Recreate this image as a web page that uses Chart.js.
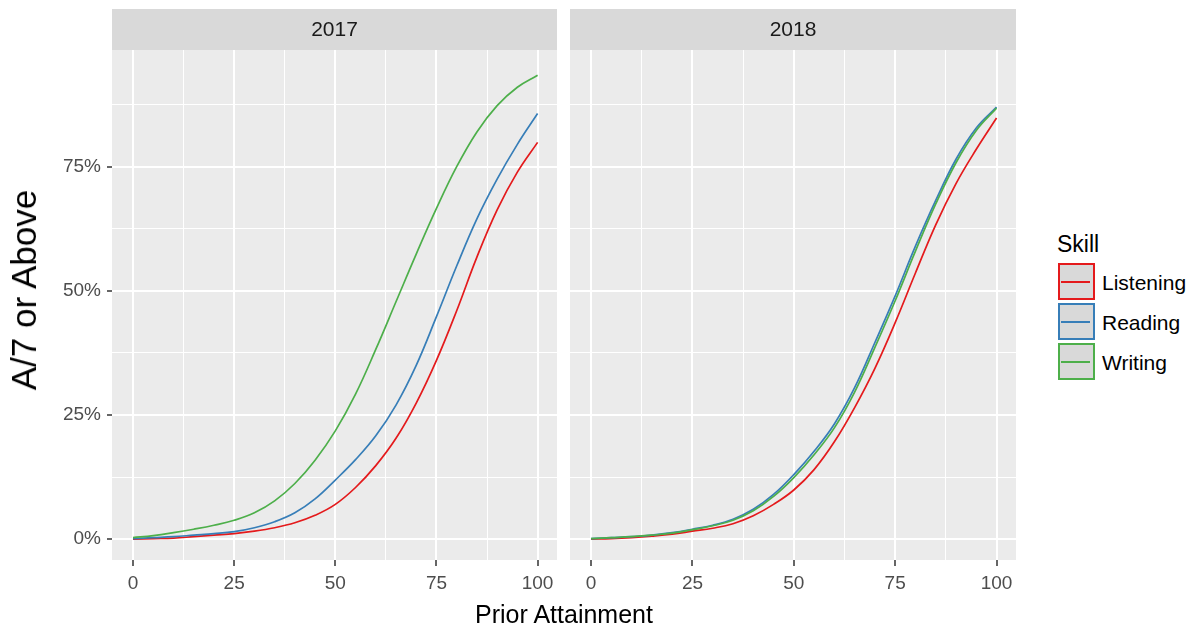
<!DOCTYPE html>
<html>
<head>
<meta charset="utf-8">
<title>A/7 or Above by Prior Attainment</title>
<script src="https://cdn.jsdelivr.net/npm/chart.js@4.4.1/dist/chart.umd.min.js"></script>
<style>
  html, body { margin: 0; padding: 0; background: #ffffff; }
  #wrap { position: relative; width: 1197px; height: 628px; overflow: hidden;
          font-family: "Liberation Sans", Arial, sans-serif; }
  canvas { position: absolute; top: 0; }
  #c2017 { left: 0; }
  #c2018 { left: 560px; }
  .ytitle { position: absolute; left: 24px; top: 290px; white-space: nowrap; color: #000;
            font-size: 35px; transform: translate(-50%, -50%) rotate(-90deg); }
  .xtitle { position: absolute; left: 564px; top: 614px; white-space: nowrap; color: #000;
            font-size: 25px; transform: translate(-50%, -50%); }
  .lgtitle { position: absolute; left: 1057px; top: 244px; font-size: 23px; color: #000;
             transform: translateY(-50%); }
  .key { position: absolute; left: 1058px; width: 37px; height: 37px; box-sizing: border-box;
         background: #d9d9d9; border: 2px solid; }
  .key span { position: absolute; left: 1px; right: 3px; top: 16px; height: 2px; }
  .lglabel { position: absolute; left: 1102px; font-size: 21px; color: #000;
             transform: translateY(-50%); }
</style>
</head>
<body>
<div id="wrap">
  <canvas id="c2017" width="560" height="628" style="width:560px;height:628px"></canvas>
  <canvas id="c2018" width="460" height="628" style="width:460px;height:628px"></canvas>
  <div class="ytitle">A/7 or Above</div>
  <div class="xtitle">Prior Attainment</div>
  <div class="lgtitle">Skill</div>
  <div id="legend"></div>
</div>
<script>
// Prior attainment positions (x) and share reaching A/7 or above (%, y)
const attainment = [0, 5, 10, 15, 20, 25, 30, 35, 40, 45, 50, 55, 60, 65, 70, 75, 80, 85, 90, 95, 100];

const listening2017 = [0.0, 0.1, 0.2, 0.5, 0.8, 1.1, 1.6, 2.3, 3.3, 4.8, 7.0, 10.4, 14.8, 20.3, 27.4, 36.0, 46.0, 56.8, 66.3, 73.9, 79.9];
const reading2017   = [0.1, 0.3, 0.5, 0.8, 1.1, 1.5, 2.3, 3.5, 5.3, 8.1, 11.9, 16.0, 20.8, 27.0, 35.0, 44.8, 55.0, 64.5, 72.5, 79.5, 85.7];
const writing2017   = [0.3, 0.7, 1.3, 2.0, 2.8, 3.8, 5.3, 7.7, 11.2, 15.9, 21.8, 29.2, 38.2, 47.8, 57.4, 66.6, 75.0, 82.0, 87.3, 91.0, 93.4];

const listening2018 = [0.0, 0.1, 0.3, 0.6, 1.0, 1.6, 2.2, 3.1, 4.7, 7.0, 9.9, 14.0, 19.6, 26.5, 34.4, 43.6, 53.6, 63.3, 71.6, 78.5, 84.8];
const reading2018   = [0.1, 0.3, 0.5, 0.8, 1.3, 2.0, 2.8, 4.0, 6.0, 9.0, 13.0, 17.7, 23.2, 30.5, 39.6, 49.0, 59.0, 68.2, 76.5, 82.8, 87.0];
const writing2018   = [0.1, 0.3, 0.5, 0.8, 1.2, 1.9, 2.7, 3.8, 5.7, 8.6, 12.4, 17.0, 22.4, 29.6, 38.6, 48.0, 58.0, 67.5, 75.8, 82.3, 86.8];

const skills = ['Listening', 'Reading', 'Writing'];
const skillColors = ['#E41A1C', '#377EB8', '#4DAF4A'];

// Axis breaks: majors are labelled, minors only get a thin grid line
const xBreaks = [0, 12.5, 25, 37.5, 50, 62.5, 75, 87.5, 100];
const yBreaks = [0, 12.5, 25, 37.5, 50, 62.5, 75, 87.5];

const FONT = '"Liberation Sans", Arial, sans-serif';
const isMajor = v => v % 25 === 0;

// Grey panel background plus the facet strip above it
const facetPanel = {
  id: 'facetPanel',
  beforeDraw(chart, args, opts) {
    const { ctx, chartArea: a } = chart;
    ctx.save();
    ctx.fillStyle = '#ebebeb';
    ctx.fillRect(a.left, a.top, a.right - a.left, a.bottom - a.top);
    ctx.fillStyle = '#d9d9d9';
    ctx.fillRect(a.left, 9, a.right - a.left, a.top - 9);
    ctx.fillStyle = '#1a1a1a';
    ctx.font = '21px ' + FONT;
    ctx.textAlign = 'center';
    ctx.textBaseline = 'middle';
    ctx.fillText(opts.label, (a.left + a.right) / 2, (9 + a.top) / 2 + 1);
    ctx.restore();
  }
};

function series(values) {
  return attainment.map((x, i) => ({ x: x, y: values[i] }));
}

function makeDatasets(list) {
  return list.map((vals, i) => ({
    label: skills[i],
    data: series(vals),
    borderColor: skillColors[i],
    borderWidth: 1.7,
    pointRadius: 0,
    fill: false,
    tension: 0.4,
    order: 2 - i
  }));
}

function gridOpts(drawTicks) {
  return {
    color: '#ffffff',
    lineWidth: c => (c.tick && isMajor(c.tick.value)) ? 2 : 1,
    drawTicks: drawTicks,
    tickLength: 5,
    tickColor: c => (c.tick && isMajor(c.tick.value)) ? '#333333' : 'rgba(0,0,0,0)',
    tickWidth: 1.5
  };
}

function panel(canvasId, label, list, showY, yAxisWidth, padRight) {
  return new Chart(document.getElementById(canvasId), {
    type: 'line',
    data: { datasets: makeDatasets(list) },
    plugins: [facetPanel],
    options: {
      responsive: false,
      animation: false,
      events: [],
      layout: { padding: { top: 50, right: padRight, left: 0, bottom: 0 } },
      plugins: {
        legend: { display: false },
        tooltip: { enabled: false },
        facetPanel: { label: label }
      },
      scales: {
        x: {
          type: 'linear',
          min: -5.2,
          max: 104.8,
          border: { display: false },
          grid: Object.assign(gridOpts(true), { tickLength: 6 }),
          afterBuildTicks: s => { s.ticks = xBreaks.map(v => ({ value: v })); },
          afterFit: s => { s.height = 68; },
          ticks: {
            autoSkip: false,
            maxRotation: 0,
            padding: 6,
            color: '#4d4d4d',
            font: { family: FONT, size: 19 },
            callback: v => isMajor(v) ? String(v) : ''
          }
        },
        y: {
          type: 'linear',
          min: -4.2,
          max: 98.5,
          border: { display: false },
          grid: gridOpts(showY),
          afterBuildTicks: s => { s.ticks = yBreaks.map(v => ({ value: v })); },
          afterFit: s => { s.width = yAxisWidth; },
          ticks: {
            display: showY,
            autoSkip: false,
            padding: 6,
            color: '#4d4d4d',
            font: { family: FONT, size: 19 },
            callback: v => isMajor(v) ? v + '%' : ''
          }
        }
      }
    }
  });
}

panel('c2017', '2017', [listening2017, reading2017, writing2017], true, 112, 3);
panel('c2018', '2018', [listening2018, reading2018, writing2018], false, 10, 4);

// Legend keys for the skill colours
const legend = document.getElementById('legend');
skills.forEach((name, i) => {
  const top = 263 + i * 40;
  const key = document.createElement('div');
  key.className = 'key';
  key.style.top = top + 'px';
  key.style.borderColor = skillColors[i];
  const line = document.createElement('span');
  line.style.background = skillColors[i];
  key.appendChild(line);
  legend.appendChild(key);
  const lab = document.createElement('div');
  lab.className = 'lglabel';
  lab.style.top = (top + 20) + 'px';
  lab.textContent = name;
  legend.appendChild(lab);
});
</script>
</body>
</html>
